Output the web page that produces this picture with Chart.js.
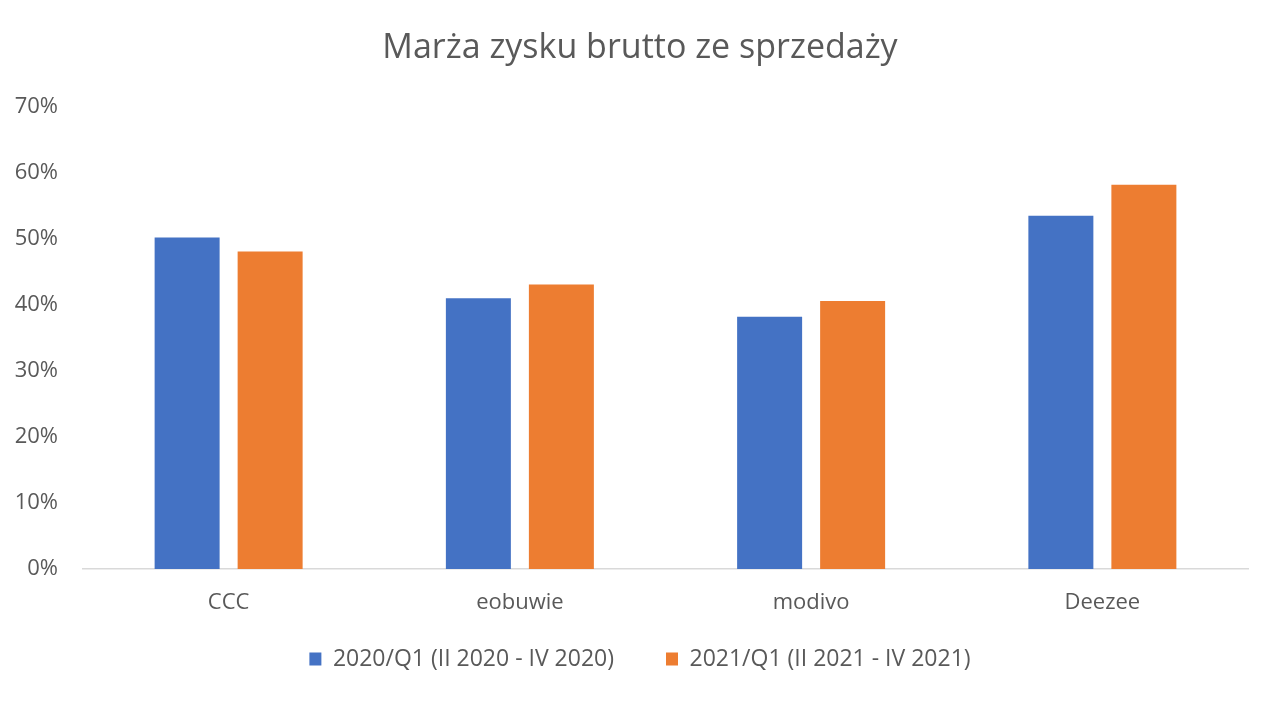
<!DOCTYPE html>
<html>
<head>
<meta charset="utf-8">
<script src="https://cdn.jsdelivr.net/npm/chart.js@4"></script>
<style>
html,body{margin:0;padding:0;background:#fff;}
#wrap{width:1280px;height:702px;position:relative;}
</style>
</head>
<body>
<div id="wrap"><canvas id="c" width="1280" height="702"></canvas></div>
<script>
const categories = ["CCC", "eobuwie", "modivo", "Deezee"];
const series2020 = [50.2, 41.0, 38.2, 53.5];
const series2021 = [48.1, 43.1, 40.6, 58.2];
const seriesNames = ["2020/Q1 (II 2020 - IV 2020)", "2021/Q1 (II 2021 - IV 2021)"];
const yTicks = [0, 10, 20, 30, 40, 50, 60, 70];

const FONT = "'Open Sans', 'Liberation Sans', sans-serif";
const GREY = "#595959";

// layout helper: fixed legend height, legend/title centred on full canvas width
const layoutFix = {
  id: 'layoutFix',
  beforeLayout(chart) {
    const lg = chart.legend;
    if (lg && !lg._patched) {
      const f = lg.fit;
      lg.fit = function () { f.call(this); this.height = 64; };
      lg._patched = true;
    }
  },
  afterLayout(chart) {
    const lg = chart.legend;
    if (lg) {
      lg.top -= 23.5;
      lg.height = 100;
      lg.bottom = lg.top + 100;
      lg.left = 0; lg.right = 1280; lg.width = 1280;
    }
    const t = chart.titleBlock;
    if (t) { t.left = 0; t.right = 1280; t.width = 1280; }
  }
};

new Chart(document.getElementById('c'), {
  type: 'bar',
  data: {
    labels: categories,
    datasets: [
      { label: seriesNames[0], data: series2020, backgroundColor: '#4472C4', categoryPercentage: 0.57, barPercentage: 0.783 },
      { label: seriesNames[1], data: series2021, backgroundColor: '#ED7D31', categoryPercentage: 0.57, barPercentage: 0.783 }
    ]
  },
  plugins: [layoutFix],
  options: {
    responsive: false,
    animation: false,
    devicePixelRatio: 1,
    layout: { padding: { top: 15, right: 32, bottom: 19, left: 0 } },
    plugins: {
      title: {
        display: true,
        text: 'Marża zysku brutto ze sprzedaży',
        color: GREY,
        font: { family: FONT, size: 34, weight: 'normal' },
        padding: { top: 13, bottom: 38 }
      },
      legend: {
        position: 'bottom',
        labels: {
          color: GREY,
          font: { family: FONT, size: 23 },
          boxWidth: 12,
          boxHeight: 13,
          padding: 52
        }
      },
      tooltip: { enabled: false }
    },
    scales: {
      x: {
        grid: { display: false },
        border: { display: true, color: '#d9d9d9', width: 1.5 },
        ticks: { color: GREY, font: { family: FONT, size: 22 }, padding: 13 },
        afterFit: (s) => { s.height = 50; }
      },
      y: {
        min: 0, max: 70,
        afterBuildTicks: (s) => { s.ticks = yTicks.map(v => ({ value: v })); },
        grid: { display: false },
        border: { display: false },
        ticks: { color: GREY, font: { family: FONT, size: 22 }, padding: 17, callback: (v) => v + '%' },
        afterFit: (s) => { s.width = 83; }
      }
    }
  }
});
</script>
</body>
</html>
